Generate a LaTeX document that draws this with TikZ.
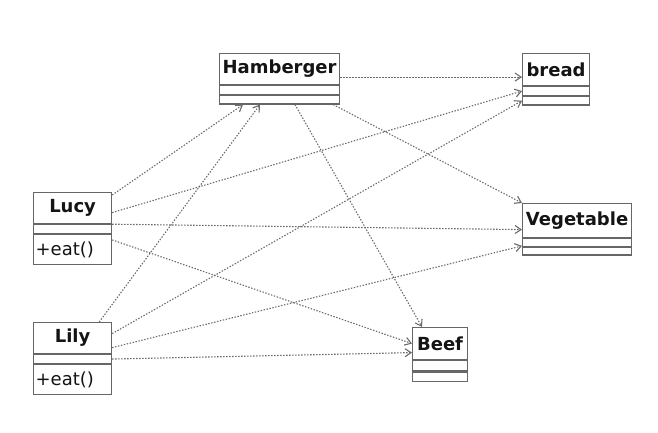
\documentclass[tikz,border=0pt]{standalone}
\usepackage{fontspec}
\setmainfont{DejaVu Sans}
\usetikzlibrary{positioning, arrows.meta}

\definecolor{boxgray}{HTML}{666666}
\definecolor{dotgray}{HTML}{6A6A6A}
\definecolor{textdark}{HTML}{141414}

\begin{document}
\begin{tikzpicture}[
      x=1pt, y=1pt,
      >={Straight Barb[length=6pt,width=8pt]},
      class name/.style={draw=boxgray,line width=1.2pt,anchor=north west,inner sep=0pt,
        minimum height=31pt,text=textdark,font=\fontsize{18}{20}\selectfont\bfseries},
      class part/.style={draw=boxgray,line width=1.2pt,inner sep=0pt,minimum height=8.5pt},
      class ops/.style={draw=boxgray,line width=1.2pt,inner sep=2pt,minimum height=30pt,
        text=textdark,align=left,font=\fontsize{18}{20}\selectfont},
      uses/.style={->,dotgray,line width=1.1pt,dash pattern=on 1.4pt off 1.6pt}
      ]
      \useasboundingbox[fill=white] (0,0) rectangle (658,-433);
      % classes
      % Hamberger
      \node [class name,minimum width=120pt,minimum height=31pt] (ham) at (219,-53) {Hamberger};
      \node [class part,minimum width=120pt,below=0pt of ham] (ham attr) {};
      \node [class part,minimum width=120pt,below=0pt of ham attr] (ham ops) {};
      % bread
      \node [class name,minimum width=67pt,minimum height=32pt] (bread) at (522,-53) {bread};
      \node [class part,minimum width=67pt,below=0pt of bread] (bread attr) {};
      \node [class part,minimum width=67pt,below=0pt of bread attr] (bread ops) {};
      % Vegetable
      \node [class name,minimum width=109pt,minimum height=34pt] (veg) at (522,-203) {Vegetable};
      \node [class part,minimum width=109pt,minimum height=7.5pt,below=0pt of veg] (veg attr) {};
      \node [class part,minimum width=109pt,minimum height=7.5pt,below=0pt of veg attr] (veg ops) {};
      % Beef
      \node [class name,minimum width=55pt,minimum height=32pt] (beef) at (412,-327) {Beef};
      \node [class part,minimum width=55pt,minimum height=10pt,below=0pt of beef] (beef attr) {};
      \node [class part,minimum width=55pt,minimum height=9.5pt,below=0pt of beef attr] (beef ops) {};
      % Lucy
      \node [class name,minimum width=78pt] (lucy) at (33,-192) {Lucy};
      \node [class part,minimum width=78pt,below=0pt of lucy] (lucy attr) {};
      \node [class ops,minimum width=78pt,text width=74pt,below=0pt of lucy attr] (lucy ops) {+eat()};
      % Lily
      \node [class name,minimum width=78pt] (lily) at (33,-322) {Lily};
      \node [class part,minimum width=78pt,below=0pt of lily] (lily attr) {};
      \node [class ops,minimum width=78pt,text width=74pt,below=0pt of lily attr] (lily ops) {+eat()};
      % dependencies
      % Hamberger
      \draw [uses] ([yshift=-8pt]ham.east) -- ([yshift=-8pt]ham.east -| bread.west);
      \draw [uses] ([xshift=-7pt]ham ops.south east) -- (veg.north west);
      \draw [uses] ([xshift=76pt]ham ops.south west) -- ([xshift=10pt]beef.north west);
      % Lucy
      \draw [uses] ([yshift=-3pt]lucy.north east) -- ([xshift=24pt]ham ops.south west);
      \draw [uses] ([yshift=-4.5pt]lucy.east) -- (bread attr.west);
      \draw [uses] (lucy.south east) -- ([yshift=-9pt]veg.west);
      \draw [uses] ([yshift=-6pt]lucy ops.north east) -- (beef.west);
      % Lily
      \draw [uses] ([xshift=-13pt]lily.north east) -- ([xshift=41pt]ham ops.south west);
      \draw [uses] ([yshift=4.5pt]lily.east) -- (bread ops.west);
      \draw [uses] ([yshift=-9.5pt]lily.east) -- ([yshift=1pt]veg attr.south west);
      \draw [uses] (lily attr.east) -- ([yshift=-9pt]beef.west);
    \end{tikzpicture}
\end{document}
